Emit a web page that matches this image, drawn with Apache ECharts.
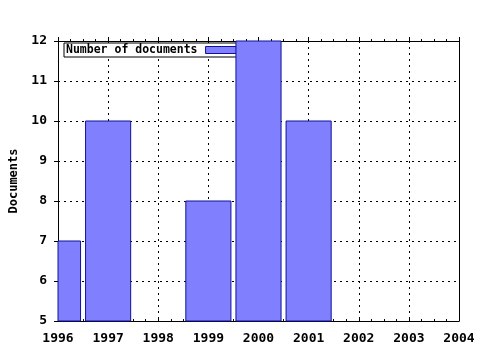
<!DOCTYPE html>
<html><head><meta charset="utf-8">
<script src="https://cdn.jsdelivr.net/npm/echarts@6/dist/echarts.min.js"></script>
<style>html,body{margin:0;padding:0;background:#fff}#c{width:480px;height:350px}</style>
</head><body><div id="c"></div>
<script>
const years = [1996, 1997, 1999, 2000, 2001];
const documents = [7, 10, 8, 12, 10];
const seriesName = 'Number of documents';
const yAxisName = 'Documents';

const font = 'DejaVu Sans Mono';
const fill = '#8080ff', edge = '#10109a';
const chart = echarts.init(document.getElementById('c'), null, {renderer: 'canvas'});
const dotted = {show: true, lineStyle: {color: '#000', type: [2, 4], width: 1}};
chart.setOption({
  animation: false,
  backgroundColor: '#fff',
  grid: {left: 57, right: 21, top: 41, bottom: 29},
  legend: {
    z: 1,
    left: 64, top: 43,
    padding: [1, 2, 1, 2],
    align: 'right',
    backgroundColor: '#fff',
    borderColor: '#000', borderWidth: 1,
    itemWidth: 31, itemHeight: 7,
    textStyle: {fontFamily: font, fontWeight: 'bold', fontSize: 11.5, color: '#000', padding: [0, 3, 0, 0]},
    data: [{name: seriesName, icon: 'rect', itemStyle: {color: fill, borderColor: edge, borderWidth: 1}}]
  },
  xAxis: [{
    type: 'value', min: 1996, max: 2004, interval: 1,
    axisLine: {show: true, onZero: false, lineStyle: {color: '#000'}},
    axisTick: {show: true, inside: true, length: 4, lineStyle: {color: '#000'}},
    minorTick: {show: true, splitNumber: 4, length: 2, lineStyle: {color: '#000'}},
    splitLine: dotted,
    axisLabel: {color: '#000', fontFamily: font, fontWeight: 'bold', fontSize: 13, margin: 11, formatter: v => String(v)}
  }, {
    type: 'value', min: 1996, max: 2004, interval: 1, position: 'top',
    axisLine: {show: true, onZero: false, lineStyle: {color: '#000'}},
    axisTick: {show: true, length: 4, lineStyle: {color: '#000'}},
    minorTick: {show: true, splitNumber: 4, length: 2, lineStyle: {color: '#000'}},
    splitLine: {show: false}, axisLabel: {show: false}
  }],
  yAxis: [{
    type: 'value', min: 5, max: 12, interval: 1,
    name: yAxisName, nameLocation: 'middle', nameGap: 38,
    nameTextStyle: {color: '#000', fontFamily: font, fontWeight: 'bold', fontSize: 12},
    axisLine: {show: true, onZero: false, lineStyle: {color: '#000'}},
    axisTick: {show: true, length: 4, lineStyle: {color: '#000'}},
    splitLine: dotted,
    axisLabel: {color: '#000', fontFamily: font, fontWeight: 'bold', fontSize: 13, margin: 11}
  }, {
    type: 'value', min: 5, max: 12, interval: 1, position: 'right',
    axisLine: {show: true, onZero: false, lineStyle: {color: '#000'}},
    axisTick: {show: false}, splitLine: {show: false}, axisLabel: {show: false}
  }],
  series: [{
    name: seriesName, type: 'custom', z: 2,
    xAxisIndex: 0, yAxisIndex: 0,
    itemStyle: {color: fill, borderColor: edge, borderWidth: 1},
    encode: {x: 0, y: 1},
    renderItem: function (params, api) {
      const x = api.value(0), v = api.value(1);
      const p1 = api.coord([x - 0.45, v]);
      const p2 = api.coord([x + 0.45, 5]);
      const cs = params.coordSys;
      const shape = echarts.graphic.clipRectByRect(
        {x: p1[0], y: p1[1], width: p2[0] - p1[0], height: p2[1] - p1[1]},
        {x: cs.x, y: cs.y, width: cs.width, height: cs.height});
      if (!shape) return null;
      return {type: 'rect', shape: shape,
        style: {fill: fill, stroke: edge, lineWidth: 1}};
    },
    data: years.map((y, i) => [y, documents[i]])
  }]
});
</script></body></html>
